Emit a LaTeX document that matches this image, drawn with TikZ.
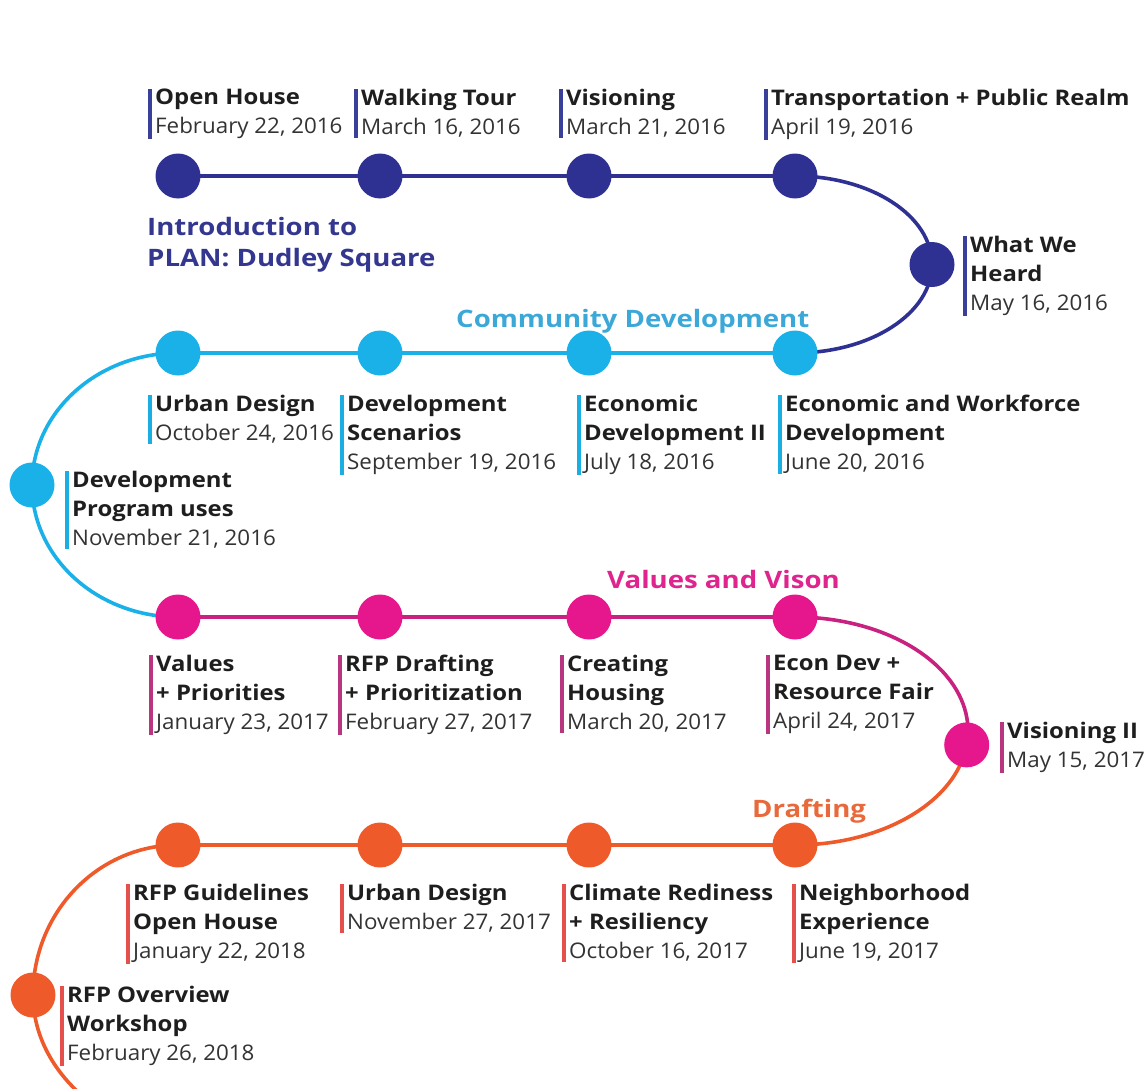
\documentclass[tikz,border=0pt]{standalone}
\usepackage{fontspec}
\setmainfont{Open Sans}[FakeStretch=1.11]
\newfontfamily\datfont{Open Sans}[FakeStretch=1.04]
\newfontfamily\sectfont{Open Sans}[FakeStretch=1.15]
\usetikzlibrary{backgrounds}
\definecolor{navy}{HTML}{2E3192}
\definecolor{lblue}{HTML}{1AB0E8}
\definecolor{magen}{HTML}{E6168C}
\definecolor{magline}{HTML}{C8217F}
\definecolor{orng}{HTML}{EE5A2A}
\definecolor{navybar}{HTML}{3A3F9A}
\definecolor{bluebar}{HTML}{1AAEE2}
\definecolor{magbar}{HTML}{B8357F}
\definecolor{orbar}{HTML}{E5504D}
\definecolor{navytxt}{HTML}{34378F}
\definecolor{bluetxt}{HTML}{3BA8D8}
\definecolor{magtxt}{HTML}{E0248E}
\definecolor{ortxt}{HTML}{E8693B}
\definecolor{titcol}{HTML}{1E1E1E}
\definecolor{datcol}{HTML}{333333}
\newcommand\evt[1]{{\bfseries #1}}
\newcommand\evd[1]{{\datfont\color{datcol}#1}}
\newcommand\evbar[2]{\draw[barline,draw=#2] ([xshift=-5pt]#1.north west) -- ([xshift=-5pt]#1.south west);}
\tikzset{
  dot/.style={circle, fill=#1, minimum size=45, inner sep=0},
  lab/.style={anchor=north west, inner sep=0, align=left, text=titcol,
    font=\fontsize{21.5}{29}\selectfont},
  sect/.style={anchor=north west, inner sep=0, align=left, text=#1,
    font=\fontsize{24}{31}\selectfont\sectfont\bfseries},
  ln/.style={draw=#1, line width=3.6},
  barline/.style={line width=3.2}
}
\begin{document}
\begin{tikzpicture}[x=1pt,y=-1pt]
\useasboundingbox (0,0) rectangle (1148,1089);
% circles
\node[dot=navy] (c1) at (178,176) {};
\node[dot=navy] (c2) at (380,176) {};
\node[dot=navy] (c3) at (589,176) {};
\node[dot=navy] (c4) at (795,176) {};
\node[dot=navy] (c5) at (932,264.5) {};
\node[dot=lblue] (c6) at (795,353) {};
\node[dot=lblue] (c7) at (589,353) {};
\node[dot=lblue] (c8) at (380,353) {};
\node[dot=lblue] (c9) at (178,353) {};
\node[dot=lblue] (c10) at (32,485) {};
\node[dot=magen] (c11) at (178,617) {};
\node[dot=magen] (c12) at (380,617) {};
\node[dot=magen] (c13) at (589,617) {};
\node[dot=magen] (c14) at (795,617) {};
\node[dot=magen] (c15) at (966.71,744.89) {};
\node[dot=orng] (c16) at (795,845) {};
\node[dot=orng] (c17) at (589,845) {};
\node[dot=orng] (c18) at (380,845) {};
\node[dot=orng] (c19) at (178,845) {};
\node[dot=orng] (c20) at (33,995) {};
% connectors
\begin{scope}[on background layer]
\draw[ln=navy] (c1.center) -- (c2.center) -- (c3.center) -- (c4.center);
\draw[ln=navy] (c4.center) arc[start angle=-90, end angle=0, x radius=137, y radius=88.5];
\draw[ln=navy] (c5.center) arc[start angle=0, end angle=90, x radius=137, y radius=88.5];
\draw[ln=lblue] (c6.center) -- (c7.center) -- (c8.center) -- (c9.center);
\draw[ln=lblue] (c9.center) arc[start angle=-90, end angle=-180, x radius=146, y radius=132];
\draw[ln=lblue] (c10.center) arc[start angle=-180, end angle=-270, x radius=146, y radius=132];
\draw[ln=magline] (c11.center) -- (c12.center) -- (c13.center) -- (c14.center);
\draw[ln=magline] (c14.center) arc[start angle=-90, end angle=7, x radius=173, y radius=114];
\draw[ln=orng] (c15.center) arc[start angle=7, end angle=90, x radius=173, y radius=114];
\draw[ln=orng] (c16.center) -- (c17.center) -- (c18.center) -- (c19.center);
\draw[ln=orng] (c19.center) arc[start angle=-90, end angle=-180, x radius=145, y radius=150];
\draw[ln=orng] (c20.center) arc[start angle=-180, end angle=-240, x radius=190, y radius=150];
\end{scope}
% section titles
\node[sect=navytxt] (s1) at (147,217) {Introduction to\\PLAN: Dudley Square};
\node[sect=bluetxt] (s2) at (456,309) {Community Development};
\node[sect=magtxt] (s3) at (607,570) {Values and Vison};
\node[sect=ortxt] (s4) at (752,799) {Drafting};
% row 1
\node[lab] (e1) at (155,89) {\evt{Open House}\\\evd{February 22, 2016}};
\node[lab] (e2) at (361,89) {\evt{Walking Tour}\\\evd{March 16, 2016}};
\node[lab] (e3) at (566,89) {\evt{Visioning}\\\evd{March 21, 2016}};
\node[lab] (e4) at (771,89) {\evt{Transportation + Public Realm}\\\evd{April 19, 2016}};
\node[lab] (e5) at (970,236) {\evt{What We}\\\evt{Heard}\\\evd{May 16, 2016}};
\evbar{e1}{navybar}\evbar{e2}{navybar}\evbar{e3}{navybar}\evbar{e4}{navybar}\evbar{e5}{navybar}
% row 2
\node[lab] (e6) at (785,395) {\evt{Economic and Workforce}\\\evt{Development}\\\evd{June 20, 2016}};
\node[lab] (e7) at (584,395) {\evt{Economic}\\\evt{Development II}\\\evd{July 18, 2016}};
\node[lab] (e8) at (347,395) {\evt{Development}\\\evt{Scenarios}\\\evd{September 19, 2016}};
\node[lab] (e9) at (155,395) {\evt{Urban Design}\\\evd{October 24, 2016}};
\node[lab] (e10) at (72,471) {\evt{Development}\\\evt{Program uses}\\\evd{November 21, 2016}};
\evbar{e6}{bluebar}\evbar{e7}{bluebar}\evbar{e8}{bluebar}\evbar{e9}{bluebar}\evbar{e10}{bluebar}
% row 3
\node[lab] (e11) at (156,655) {\evt{Values}\\\evt{+ Priorities}\\\evd{January 23, 2017}};
\node[lab] (e12) at (345,655) {\evt{RFP Drafting}\\\evt{+ Prioritization}\\\evd{February 27, 2017}};
\node[lab] (e13) at (567,655) {\evt{Creating}\\\evt{Housing}\\\evd{March 20, 2017}};
\node[lab] (e14) at (773,655) {\evt{Econ Dev +}\\\evt{Resource Fair}\\\evd{April 24, 2017}};
\node[lab] (e15) at (1007,722) {\evt{Visioning II}\\\evd{May 15, 2017}};
\evbar{e11}{magbar}\evbar{e12}{magbar}\evbar{e13}{magbar}\evbar{e14}{magbar}\evbar{e15}{magbar}
% row 4
\node[lab] (e16) at (799,884) {\evt{Neighborhood}\\\evt{Experience}\\\evd{June 19, 2017}};
\node[lab] (e17) at (569,884) {\evt{Climate Rediness}\\\evt{+ Resiliency}\\\evd{October 16, 2017}};
\node[lab] (e18) at (347,884) {\evt{Urban Design}\\\evd{November 27, 2017}};
\node[lab] (e19) at (133,884) {\evt{RFP Guidelines}\\\evt{Open House}\\\evd{January 22, 2018}};
\node[lab] (e20) at (67,986) {\evt{RFP Overview}\\\evt{Workshop}\\\evd{February 26, 2018}};
\evbar{e16}{orbar}\evbar{e17}{orbar}\evbar{e18}{orbar}\evbar{e19}{orbar}\evbar{e20}{orbar}
\end{tikzpicture}
\end{document}
